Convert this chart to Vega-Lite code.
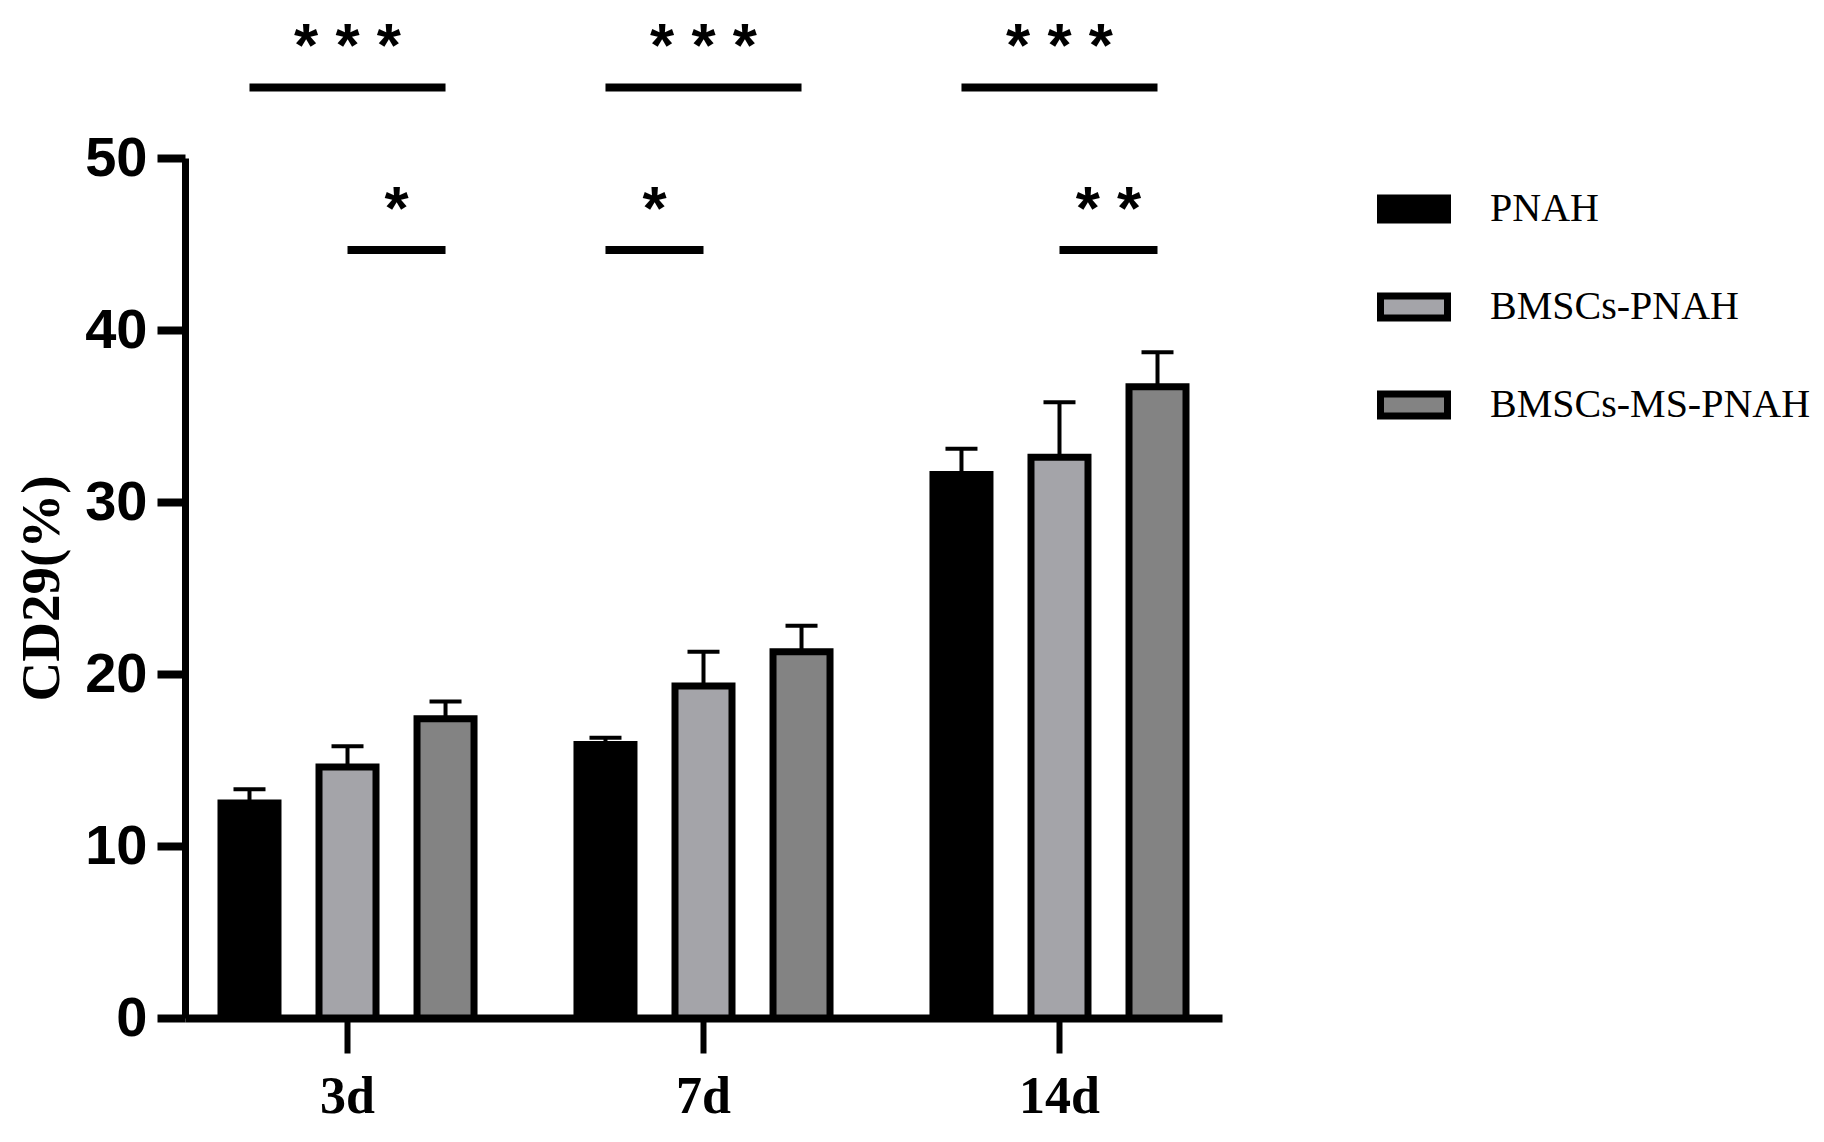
{
  "$schema": "https://vega.github.io/schema/vega-lite/v6.json",
  "width": 1037,
  "height": 860,
  "autosize": {"type": "none"},
  "padding": {"left": 185, "top": 158, "right": 602, "bottom": 124},
  "background": "white",
  "config": {
    "view": {"stroke": null},
    "axis": {"grid": false, "domainColor": "black", "tickColor": "black", "labelColor": "black", "titleColor": "black"}
  },
  "datasets": {
    "bars": [
      {"day": "3d", "group": "PNAH", "mean": 12.5, "upper": 13.3},
      {"day": "3d", "group": "BMSCs-PNAH", "mean": 14.6, "upper": 15.8},
      {"day": "3d", "group": "BMSCs-MS-PNAH", "mean": 17.4, "upper": 18.4},
      {"day": "7d", "group": "PNAH", "mean": 15.9, "upper": 16.3},
      {"day": "7d", "group": "BMSCs-PNAH", "mean": 19.3, "upper": 21.3},
      {"day": "7d", "group": "BMSCs-MS-PNAH", "mean": 21.3, "upper": 22.8},
      {"day": "14d", "group": "PNAH", "mean": 31.6, "upper": 33.1},
      {"day": "14d", "group": "BMSCs-PNAH", "mean": 32.6, "upper": 35.8},
      {"day": "14d", "group": "BMSCs-MS-PNAH", "mean": 36.7, "upper": 38.7}
    ],
    "sig": [
      {"day": "3d", "from": "PNAH", "to": "BMSCs-MS-PNAH", "level": 54.1, "label": "* * *"},
      {"day": "3d", "from": "BMSCs-PNAH", "to": "BMSCs-MS-PNAH", "level": 44.65, "label": "*"},
      {"day": "7d", "from": "PNAH", "to": "BMSCs-MS-PNAH", "level": 54.1, "label": "* * *"},
      {"day": "7d", "from": "PNAH", "to": "BMSCs-PNAH", "level": 44.65, "label": "*"},
      {"day": "14d", "from": "PNAH", "to": "BMSCs-MS-PNAH", "level": 54.1, "label": "* * *"},
      {"day": "14d", "from": "BMSCs-PNAH", "to": "BMSCs-MS-PNAH", "level": 44.65, "label": "* *"}
    ]
  },
  "encoding": {
    "x": {
      "field": "day",
      "type": "nominal",
      "title": null,
      "scale": {"domain": ["3d", "7d", "14d"], "paddingInner": 0.174, "paddingOuter": 0.0435},
      "axis": {
        "labelAngle": 0,
        "labelFont": "Liberation Serif",
        "labelFontWeight": "bold",
        "labelFontSize": 52,
        "labelPadding": 18,
        "domainWidth": 8,
        "tickWidth": 6,
        "tickSize": 35
      }
    },
    "xOffset": {
      "field": "group",
      "type": "nominal",
      "scale": {"domain": ["PNAH", "BMSCs-PNAH", "BMSCs-MS-PNAH"], "paddingInner": 0, "paddingOuter": 0}
    },
    "y": {
      "field": "mean",
      "type": "quantitative",
      "title": "CD29(%)",
      "scale": {"domain": [0, 50], "nice": false},
      "axis": {
        "values": [0, 10, 20, 30, 40, 50],
        "labelFont": "Liberation Sans",
        "labelFontWeight": "bold",
        "labelFontSize": 56,
        "labelPadding": 10,
        "domainWidth": 7,
        "tickWidth": 8,
        "tickSize": 28,
        "titleFont": "Liberation Serif",
        "titleFontWeight": "bold",
        "titleFontSize": 55,
        "titlePadding": 14
      }
    }
  },
  "layer": [
    {
      "data": {"name": "bars"},
      "mark": {"type": "rule", "stroke": "black", "strokeWidth": 4},
      "encoding": {"y2": {"field": "upper"}}
    },
    {
      "data": {"name": "bars"},
      "mark": {"type": "tick", "color": "black", "size": 32, "thickness": 4, "opacity": 1},
      "encoding": {"y": {"field": "upper", "type": "quantitative"}}
    },
    {
      "data": {"name": "bars"},
      "mark": {"type": "bar", "width": 57, "stroke": "black", "strokeWidth": 7, "opacity": 1},
      "encoding": {
        "color": {
          "field": "group",
          "type": "nominal",
          "scale": {"domain": ["PNAH", "BMSCs-PNAH", "BMSCs-MS-PNAH"], "range": ["#000000", "#a4a4a9", "#838383"]},
          "legend": {
            "title": null,
            "orient": "none",
            "legendX": 1192,
            "legendY": 14,
            "symbolType": "M-1,-0.328H1V0.328H-1Z",
            "symbolSize": 4489,
            "symbolStrokeColor": "black",
            "symbolStrokeWidth": 7,
            "symbolOpacity": 1,
            "labelFont": "Liberation Serif",
            "labelFontSize": 40,
            "labelColor": "black",
            "labelOffset": 39,
            "labelLimit": 400,
            "rowPadding": 36,
            "padding": 0
          }
        }
      }
    },
    {
      "data": {"name": "sig"},
      "transform": [{"fold": ["from", "to"], "as": ["end", "grp"]}],
      "mark": {"type": "line", "stroke": "black", "strokeWidth": 8, "strokeCap": "butt", "clip": false},
      "encoding": {
        "xOffset": {"field": "grp", "type": "nominal"},
        "y": {"field": "level", "type": "quantitative"},
        "detail": [{"field": "day"}, {"field": "level"}]
      }
    },
    {
      "data": {"name": "sig"},
      "transform": [{"filter": "datum.from == 'PNAH' && datum.to == 'BMSCs-MS-PNAH'"}],
      "mark": {"type": "text", "font": "Liberation Sans", "fontWeight": "bold", "fontSize": 62, "baseline": "alphabetic", "dx": 98, "dy": -21, "color": "black"},
      "encoding": {
        "xOffset": {"field": "from", "type": "nominal"},
        "y": {"field": "level", "type": "quantitative"},
        "text": {"field": "label"}
      }
    },
    {
      "data": {"name": "sig"},
      "transform": [{"filter": "!(datum.from == 'PNAH' && datum.to == 'BMSCs-MS-PNAH')"}],
      "mark": {"type": "text", "font": "Liberation Sans", "fontWeight": "bold", "fontSize": 62, "baseline": "alphabetic", "dx": 49, "dy": -21, "color": "black"},
      "encoding": {
        "xOffset": {"field": "from", "type": "nominal"},
        "y": {"field": "level", "type": "quantitative"},
        "text": {"field": "label"}
      }
    }
  ]
}
